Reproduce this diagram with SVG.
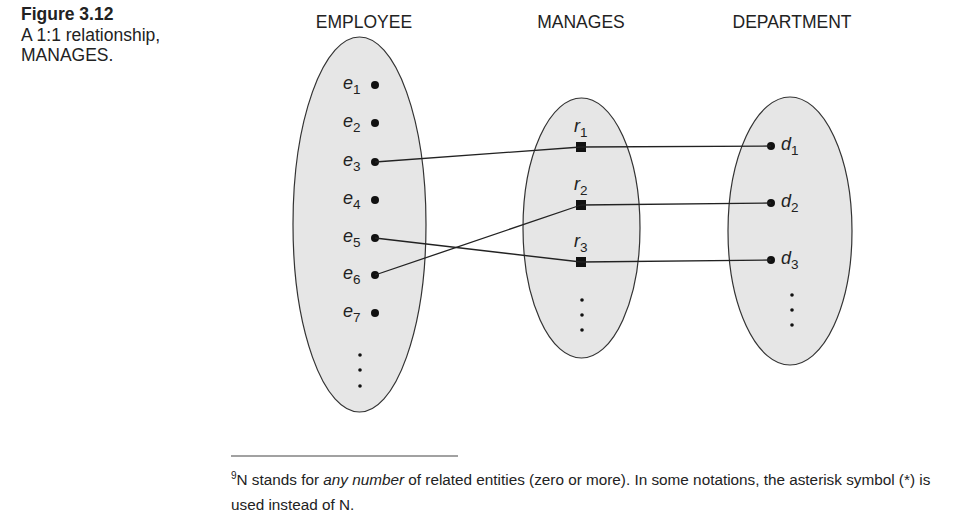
<svg xmlns="http://www.w3.org/2000/svg" width="953" height="517" viewBox="0 0 953 517">
<style>
text{font-family:"Liberation Sans",Arial,sans-serif;fill:#222}
.hdr{font-size:17.5px;text-anchor:middle}
.lbl{font-size:18px;font-style:italic}
.sub{font-size:13.5px;font-style:normal}
.set{fill:#e6e6e6;stroke:#333;stroke-width:1.2}
.dot{fill:#111}
.sq{fill:#111}
.ln{stroke:#222;stroke-width:1.3;fill:none}
.fn{font-size:15.3px}
</style>
<g id="caption">
<text x="21" y="20" style="font-size:17.5px;font-weight:bold">Figure 3.12</text>
<text x="21" y="41" style="font-size:17.5px">A 1:1 relationship,</text>
<text x="21" y="61" style="font-size:17.5px">MANAGES.</text>
</g>
<g id="headers">
<text class="hdr" x="364" y="28">EMPLOYEE</text>
<text class="hdr" x="581" y="28">MANAGES</text>
<text class="hdr" x="792" y="28">DEPARTMENT</text>
</g>
<g id="employee">
<ellipse class="set" cx="359.5" cy="224.5" rx="66.5" ry="187.5"/>
<g id="e1"><text class="lbl" x="343" y="89">e<tspan class="sub" dy="5">1</tspan></text><circle class="dot" cx="375" cy="85" r="4"/></g>
<g id="e2"><text class="lbl" x="343" y="127">e<tspan class="sub" dy="5">2</tspan></text><circle class="dot" cx="375" cy="123" r="4"/></g>
<g id="e3"><text class="lbl" x="343" y="166">e<tspan class="sub" dy="5">3</tspan></text><circle class="dot" cx="375" cy="162" r="4"/></g>
<g id="e4"><text class="lbl" x="343" y="204">e<tspan class="sub" dy="5">4</tspan></text><circle class="dot" cx="375" cy="200" r="4"/></g>
<g id="e5"><text class="lbl" x="343" y="242">e<tspan class="sub" dy="5">5</tspan></text><circle class="dot" cx="375" cy="238" r="4"/></g>
<g id="e6"><text class="lbl" x="343" y="279">e<tspan class="sub" dy="5">6</tspan></text><circle class="dot" cx="375" cy="275" r="4"/></g>
<g id="e7"><text class="lbl" x="343" y="317">e<tspan class="sub" dy="5">7</tspan></text><circle class="dot" cx="375" cy="313" r="4"/></g>
<circle class="dot" cx="360" cy="355" r="1.8"/><circle class="dot" cx="360" cy="370" r="1.8"/><circle class="dot" cx="360" cy="386" r="1.8"/>
</g>
<g id="manages">
<ellipse class="set" cx="581.5" cy="228" rx="58.5" ry="130"/>
<g id="r1"><text class="lbl" x="574" y="132">r<tspan class="sub" dy="5">1</tspan></text><rect class="sq" x="576" y="142" width="10" height="10"/></g>
<g id="r2"><text class="lbl" x="574" y="190">r<tspan class="sub" dy="5">2</tspan></text><rect class="sq" x="576" y="200" width="10" height="10"/></g>
<g id="r3"><text class="lbl" x="574" y="247">r<tspan class="sub" dy="5">3</tspan></text><rect class="sq" x="576" y="257" width="10" height="10"/></g>
<circle class="dot" cx="582" cy="300" r="1.8"/><circle class="dot" cx="582" cy="315" r="1.8"/><circle class="dot" cx="582" cy="330" r="1.8"/>
</g>
<g id="department">
<ellipse class="set" cx="790" cy="231" rx="62" ry="134"/>
<g id="d1"><text class="lbl" x="781" y="150">d<tspan class="sub" dy="5">1</tspan></text><circle class="dot" cx="771" cy="146" r="4"/></g>
<g id="d2"><text class="lbl" x="781" y="207">d<tspan class="sub" dy="5">2</tspan></text><circle class="dot" cx="771" cy="203" r="4"/></g>
<g id="d3"><text class="lbl" x="781" y="264">d<tspan class="sub" dy="5">3</tspan></text><circle class="dot" cx="771" cy="260" r="4"/></g>
<circle class="dot" cx="792" cy="295" r="1.8"/><circle class="dot" cx="792" cy="310" r="1.8"/><circle class="dot" cx="792" cy="325" r="1.8"/>
</g>
<g id="connectors">
<line class="ln" x1="375" y1="162" x2="581" y2="147"/>
<line class="ln" x1="375" y1="238" x2="581" y2="262"/>
<line class="ln" x1="375" y1="275" x2="581" y2="205"/>
<line class="ln" x1="581" y1="147" x2="771" y2="146"/>
<line class="ln" x1="581" y1="205" x2="771" y2="203"/>
<line class="ln" x1="581" y1="262" x2="771" y2="260"/>
</g>
<g id="footnote">
<line x1="231" y1="456" x2="458" y2="456" stroke="#444" stroke-width="1.2"/>
<text class="fn" x="231" y="485"><tspan style="font-size:10px" dy="-6">9</tspan><tspan dy="6">N stands for </tspan><tspan style="font-style:italic">any number</tspan> of related entities (zero or more). In some notations, the asterisk symbol (*) is</text>
<text class="fn" x="231" y="510">used instead of N.</text>
</g>
</svg>
